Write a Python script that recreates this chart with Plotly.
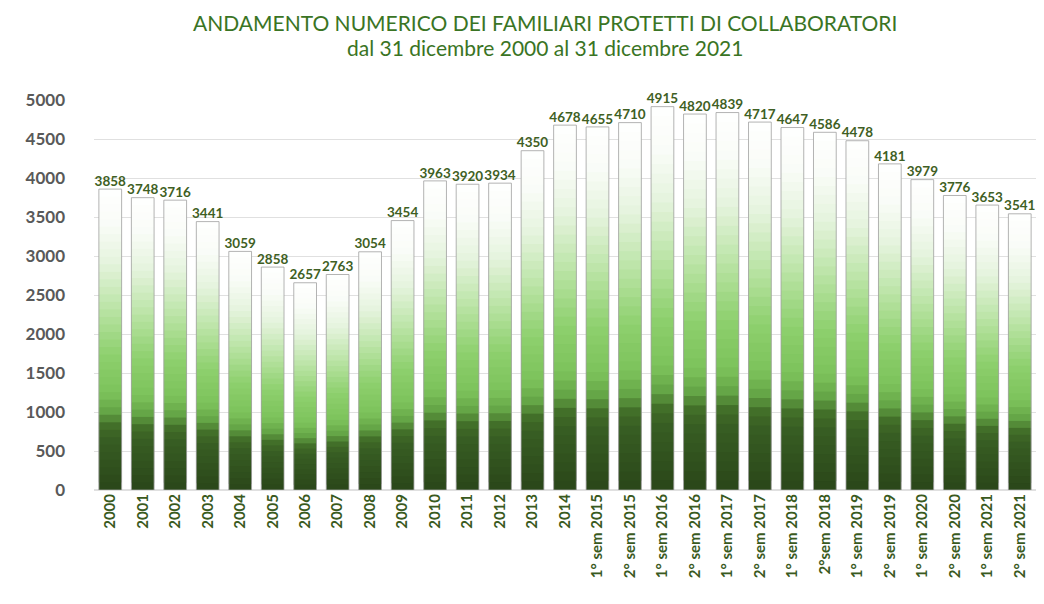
import plotly.graph_objects as go

categories = ["2000", "2001", "2002", "2003", "2004", "2005", "2006", "2007", "2008", "2009",
              "2010", "2011", "2012", "2013", "2014",
              "1° sem 2015", "2° sem 2015", "1° sem 2016", "2° sem 2016", "1° sem 2017",
              "2° sem 2017", "1° sem 2018", "2°sem 2018", "1° sem 2019", "2° sem 2019",
              "1° sem 2020", "2° sem 2020", "1° sem 2021", "2° sem 2021"]
values = [3858, 3748, 3716, 3441, 3059, 2858, 2657, 2763, 3054, 3454,
          3963, 3920, 3934, 4350, 4678,
          4655, 4710, 4915, 4820, 4839,
          4717, 4647, 4586, 4478, 4181,
          3979, 3776, 3653, 3541]
y_ticks = [0, 500, 1000, 1500, 2000, 2500, 3000, 3500, 4000, 4500, 5000]

title_line1 = "ANDAMENTO NUMERICO DEI FAMILIARI PROTETTI DI COLLABORATORI"
title_line2 = "dal 31 dicembre 2000 al 31 dicembre 2021"

# gradient stops (fraction of bar height -> colour)
stops = [(0.00, (42, 70, 25)), (0.17, (56, 94, 35)), (0.21, (64, 108, 39)),
         (0.26, (100, 165, 70)), (0.32, (124, 194, 90)), (0.45, (142, 208, 110)),
         (0.60, (186, 228, 165)), (0.75, (228, 243, 220)), (0.88, (249, 252, 247)),
         (1.00, (255, 255, 255))]


def color_at(f):
    for (f0, c0), (f1, c1) in zip(stops[:-1], stops[1:]):
        if f0 <= f <= f1:
            t = (f - f0) / (f1 - f0)
            return "rgb(%d,%d,%d)" % tuple(round(a + (b - a) * t) for a, b in zip(c0, c1))
    return "rgb(255,255,255)"


N = 40
BAR_W = 0.7
fig = go.Figure()
for k in range(N):
    f0 = k / N
    f1 = min((k + 2) / N, 1.0)  # overlap the next slice to hide seams
    fig.add_trace(go.Bar(
        x=categories,
        y=[v * (f1 - f0) for v in values],
        base=[v * f0 for v in values],
        marker=dict(color=color_at((k + 0.5) / N), line=dict(width=0)),
        width=BAR_W, showlegend=False, hoverinfo="skip"))

# outline of the cylinders
fig.add_trace(go.Bar(
    x=categories, y=values, width=BAR_W,
    marker=dict(color="rgba(0,0,0,0)", line=dict(color="rgba(160,160,160,0.8)", width=1)),
    showlegend=False, hovertemplate="%{x}: %{y}<extra></extra>"))

# value labels
fig.add_trace(go.Scatter(
    x=categories, y=values, mode="text", text=[str(v) for v in values],
    textposition="top center", cliponaxis=False,
    textfont=dict(family="Lato", size=13.5, color="#3f5f24", weight="bold"),
    showlegend=False, hoverinfo="skip"))

fig.update_layout(
    width=1028, height=588,
    barmode="overlay",
    paper_bgcolor="white", plot_bgcolor="white",
    margin=dict(l=86, r=0, t=92, b=106),
    annotations=[
        dict(text=title_line1, xref="paper", yref="paper", x=0.479, y=1.0,
             yshift=78, xanchor="center", yanchor="middle", showarrow=False,
             font=dict(family="Lato", size=21, color="#3a7424")),
        dict(text=title_line2, xref="paper", yref="paper", x=0.479, y=1.0,
             yshift=53, xanchor="center", yanchor="middle", showarrow=False,
             font=dict(family="Lato", size=21, color="#3a7424")),
    ],
    xaxis=dict(
        range=[-0.5, len(categories) - 0.5],
        tickangle=-90, showgrid=False, showline=False, ticks="", automargin=False,
        tickfont=dict(family="Lato", size=15, color="#3a5a1e", weight="bold")),
    yaxis=dict(
        range=[0, 5000], tickvals=y_ticks, showgrid=True, gridcolor="#e0e0e0",
        gridwidth=1, zeroline=True, zerolinecolor="#e0e0e0", showline=False, ticks="",
        ticklabelstandoff=28, automargin=False,
        tickfont=dict(family="Lato", size=17, color="#595959", weight="bold")),
)

fig.write_html("out.html")
